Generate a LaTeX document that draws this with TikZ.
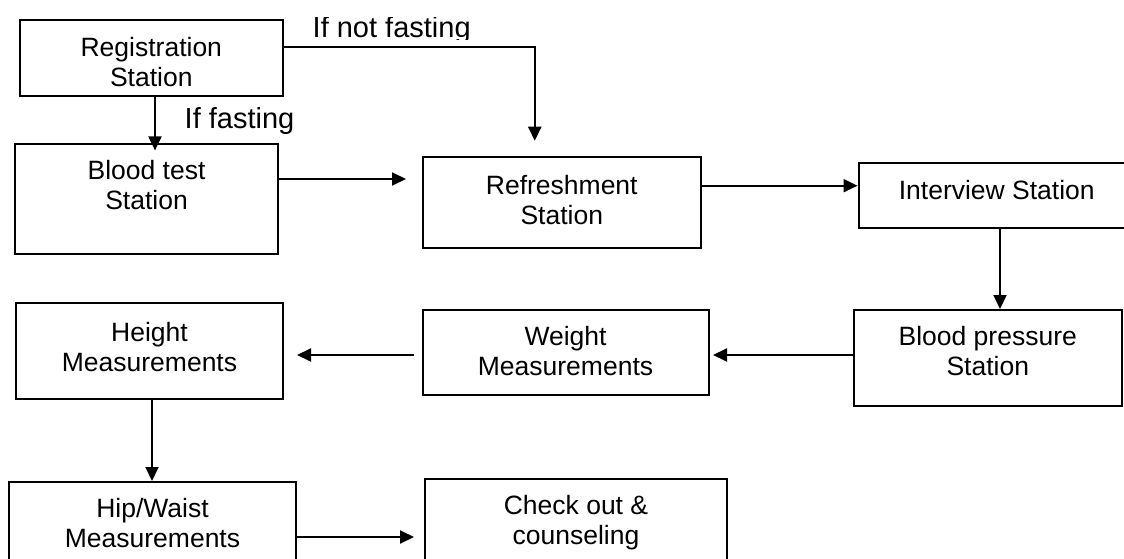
\documentclass[tikz,border=0pt]{standalone}
\usepackage{fontspec}
\setmainfont{Liberation Sans}
\usetikzlibrary{arrows.meta}
\tikzset{
  box/.style={draw, line width=2pt, rectangle, inner sep=0pt},
  boxtext/.style={font=\fontsize{26.5}{30}\selectfont, align=center, inner sep=0pt},
  arr/.style={line width=2pt, -{Triangle[length=14pt,width=13pt]}},
  cond/.style={font=\fontsize{29}{33}\selectfont, inner sep=0pt, anchor=base west},
}
\begin{document}
\begin{tikzpicture}[x=1pt,y=-1pt]
\useasboundingbox (0,0) rectangle (1124,559);
\clip (0,0) rectangle (1124,559);

\node[box, minimum width=263.4pt, minimum height=75.7pt,
  label={[boxtext, yshift=-4.6pt]center:{Registration\\Station}}] (reg) at (151.3,57.9) {};
\node[box, minimum width=263pt, minimum height=110pt,
  label={[boxtext, yshift=14pt]center:{Blood test\\Station}}] (bt) at (146.5,199) {};
\node[box, minimum width=278.5pt, minimum height=91.3pt,
  label={[boxtext, yshift=2.7pt]center:{Refreshment\\Station}}] (rf) at (561.75,202.7) {};
\node[box, minimum width=276.5pt, minimum height=64.7pt,
  label={[boxtext, yshift=5pt]center:{Interview Station}}] (iv) at (996.75,195.3) {};
\node[box, minimum width=267.5pt, minimum height=96pt,
  label={[boxtext, yshift=6.5pt]center:{Blood pressure\\Station}}] (bp) at (987.75,358) {};
\node[box, minimum width=286pt, minimum height=85pt,
  label={[boxtext, yshift=1pt]center:{Weight\\Measurements}}] (wt) at (565.5,352.5) {};
\node[box, minimum width=267pt, minimum height=96pt,
  label={[boxtext, yshift=4pt]center:{Height\\Measurements}}] (ht) at (149.5,351) {};
\node[box, minimum width=287pt, minimum height=93pt,
  label={[boxtext, yshift=5.5pt]center:{Hip/Waist\\Measurements}}] (hp) at (152.5,528.5) {};
\node[box, minimum width=302pt, minimum height=95.6pt,
  label={[boxtext, yshift=5pt]center:{Check out \&\\counseling}}] (co) at (576,527.2) {};

% connectors
\draw[arr, shorten >=-7.4pt] ([xshift=3.7pt]reg.south) -- ([xshift=3.7pt]reg.south |- bt.north);
\draw[arr, shorten >=15.3pt] ([yshift=11.2pt]reg.east) -| ([xshift=-27pt]rf.north);
\draw[arr, shorten >=15.5pt] ([yshift=20pt]bt.east) -- ([yshift=20pt]bt.east -| rf.west);
\draw[arr] ([yshift=17pt]rf.east) -- ([yshift=17pt]rf.east -| iv.west);
\draw[arr] ([xshift=12.25pt]bp.north |- iv.south) -- ([xshift=12.25pt]bp.north);
\draw[arr, shorten >=3.5pt] ([yshift=3pt]bp.west) -- ([yshift=3pt]bp.west -| wt.east);
\draw[arr, shorten <=7.5pt, shorten >=13pt] ([yshift=-2.5pt]wt.west) -- ([yshift=-2.5pt]wt.west -| ht.east);
\draw[arr] ([xshift=2.5pt]ht.south) -- ([xshift=2.5pt]ht.south |- hp.north);
\draw[arr, shorten >=10pt] ([yshift=-8.5pt]hp.east) -- ([yshift=-8.5pt]hp.east -| co.west);

% condition labels
\begin{scope}
\clip (0,17.5) rectangle (1124,39.5);
\node[cond] (nf) at (312.5,37.3) {If not fasting};
\end{scope}
\node[cond] (f) at (184.5,128.3) {If fasting};
\end{tikzpicture}
\end{document}
